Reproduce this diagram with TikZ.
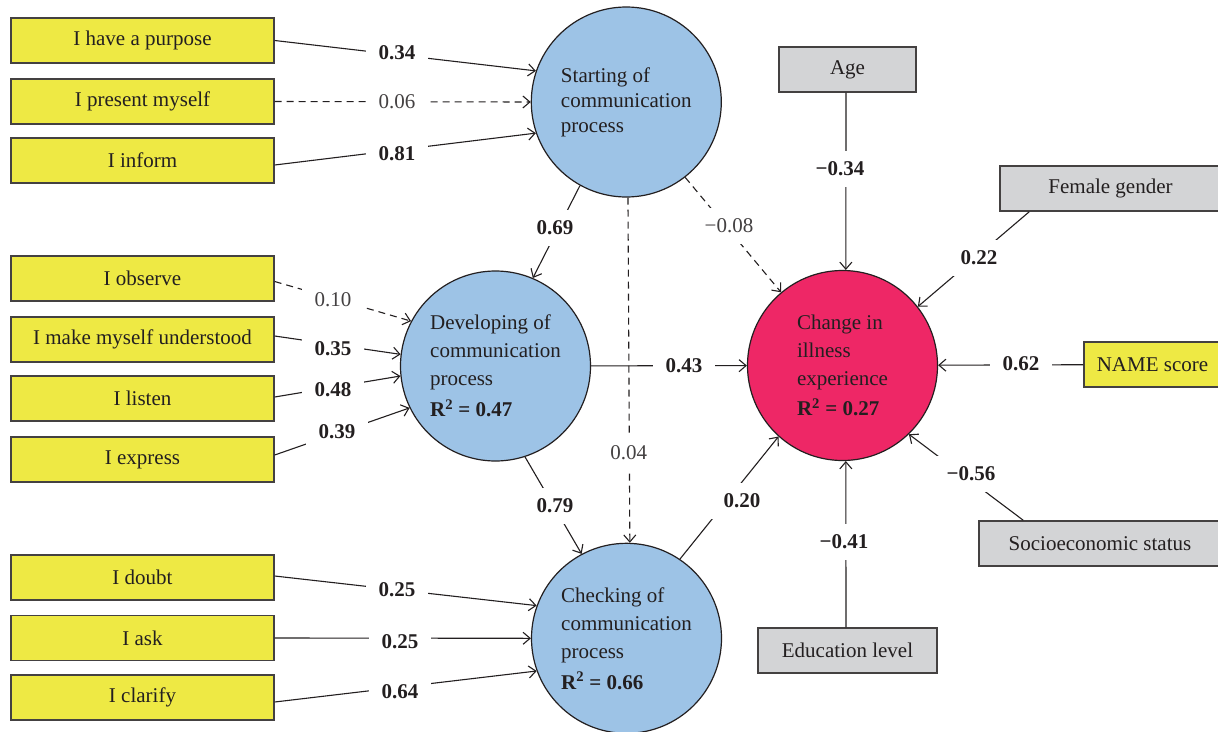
\documentclass[tikz,border=0pt]{standalone}
\usepackage{fontspec}
\setmainfont{Liberation Serif}
\usetikzlibrary{arrows.meta,calc}
\definecolor{ink}{HTML}{231F20}
\definecolor{yel}{HTML}{EEE944}
\definecolor{gry}{HTML}{D3D4D6}
\definecolor{blu}{HTML}{9DC3E6}
\definecolor{pnk}{HTML}{EE2766}
\begin{document}
\begin{tikzpicture}[x=1pt,y=-1pt,
  every node/.style={font=\fontsize{21}{28}\selectfont, text=ink},
  ybox/.style={draw=ink!85, line width=1.4pt, fill=yel, minimum width=263pt, minimum height=45pt, inner sep=0pt},
  gbox/.style={draw=ink!85, line width=1.4pt, fill=gry, minimum height=45pt, inner sep=0pt},
  circ/.style={circle, draw=ink, line width=1.2pt, minimum size=190pt, inner sep=0pt, align=left},
  conn/.style={draw=ink, line width=1.1pt, -{Straight Barb[length=7pt,width=12pt]}},
  dsh/.style={dash pattern=on 7pt off 5pt},
  lab/.style={fill=white, inner xsep=12.5pt, inner ysep=11pt, text=ink!85},
  sig/.style={fill=white, inner xsep=12.5pt, inner ysep=11pt, font=\fontsize{21}{28}\selectfont\bfseries},
]
\useasboundingbox[fill=white] (0,0) rectangle (1218,731);

% left boxes
\node[ybox] (p1) at (142.5,40.5) {I have a purpose};
\node[ybox] (p2) at (142.5,101.5) {I present myself};
\node[ybox] (p3) at (142.5,160.5) {I inform};
\node[ybox] (d1) at (142.5,278.5) {I observe};
\node[ybox] (d2) at (142.5,339.5) {I make myself understood};
\node[ybox] (d3) at (142.5,398.5) {I listen};
\node[ybox] (d4) at (142.5,459.5) {I express};
\node[ybox] (c1) at (142.5,577.5) {I doubt};
\node[ybox] (c2) at (142.5,638) {I ask};
\node[ybox] (c3) at (142.5,697.5) {I clarify};

% circles
\node[circ, fill=blu, font=\fontsize{21}{25}\selectfont] (start) at (626.3,102) {Starting of\\communication\\process};
\node[circ, fill=blu] (dev) at (495.5,366) {Developing of\\communication\\process\\[3pt]\textbf{R\textsuperscript{2} = 0.47}};
\node[circ, fill=blu] (check) at (626.5,638.3) {Checking of\\communication\\process\\[3pt]\textbf{R\textsuperscript{2} = 0.66}};
\node[circ, fill=pnk] (change) at (842.5,365.5) {Change in\\illness\\experience\\[2pt]\textbf{R\textsuperscript{2} = 0.27}};

% right boxes
\node[gbox, minimum width=137pt] (age) at (847.5,69.5) {Age};
\node[gbox, minimum width=221pt] (fem) at (1110.5,188.5) {Female gender};
\node[ybox, minimum width=137pt] (name) at (1152.5,364.5) {NAME score};
\node[gbox, minimum width=242pt] (socio) at (1100,543.5) {Socioeconomic status};
\node[gbox, minimum width=179pt] (edu) at (847.5,650.5) {Education level};

% connectors: starting
\draw[conn] (p1.east) -- (start.161.4);
\draw[conn,dsh] (p2.east) -- (start.180);
\draw[conn] ($(p3.east)+(0,4.5)$) -- (start.199.4);
% developing
\draw[conn,dsh] ($(d1.east)+(0,3)$) -- (dev.152.4);
\draw[conn] ($(d2.east)+(0,-3.5)$) -- (dev.173.4);
\draw[conn] ($(d3.east)+(0,-1.5)$) -- (dev.186);
\draw[conn] ($(d4.east)+(0,-4.5)$) -- (dev.206.2);
% checking
\draw[conn] ($(c1.east)+(0,-1.5)$) -- (check.160.9);
\draw[conn] (c2.east) -- (check.180);
\draw[conn] ($(c3.east)+(0,4.5)$) -- (check.200);
% between circles
\draw[conn] (start.241.3) -- (dev.67.7);
\draw[conn,dsh] (start.271.4) -- (check.88.6);
\draw[conn,dsh] (start.308.2) -- (change.130.9);
\draw[conn] (dev) -- (change);
\draw[conn] (dev.288.3) -- (check.118);
\draw[conn] (check.56.2) -- (change.228);
% covariates
\draw[conn] ($(age.south)+(-1.5,0)$) -- (change.88);
\draw[conn] ($(fem.south west)+(30,0)$) -- (change.38.4);
\draw[conn] (name) -- (change);
\draw[conn] ($(socio.north west)+(45,0)$) -- (change.314.4);
\draw[conn] ($(edu.north)+(-1.5,0)$) -- (change.272);

% labels
\node[sig] at (397,53) {0.34};
\node[lab] at (397,102) {0.06};
\node[sig] at (397,154) {0.81};
\node[lab] at (333,300) {0.10};
\node[sig] at (333,349) {0.35};
\node[sig] at (333,390) {0.48};
\node[sig] at (337,432) {0.39};
\node[sig] at (397,590) {0.25};
\node[sig] at (400,642) {0.25};
\node[sig] at (400,692) {0.64};
\node[sig] at (555,228) {0.69};
\node[lab] at (628.8,453) {0.04};
\node[lab] at (729,226) {−0.08};
\node[sig] at (684,366) {0.43};
\node[sig] at (555,506) {0.79};
\node[sig] at (742,501) {0.20};
\node[sig] at (840,169) {−0.34};
\node[sig] at (979,258) {0.22};
\node[sig] at (1021,364) {0.62};
\node[sig] at (971,474) {−0.56};
\node[sig] at (844,542) {−0.41};
\end{tikzpicture}
\end{document}
